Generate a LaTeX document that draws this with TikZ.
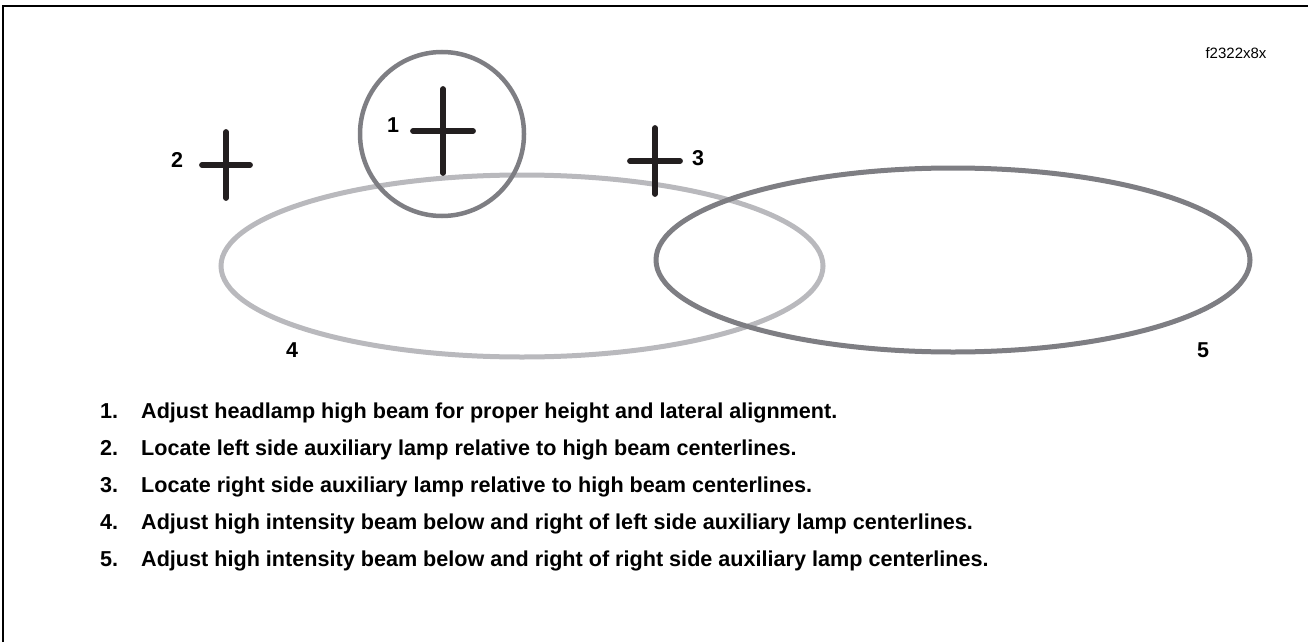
\documentclass[tikz,border=0pt]{standalone}
\usepackage{fontspec}
\setmainfont{Liberation Sans}
\definecolor{crossc}{HTML}{231F20}
\definecolor{lightg}{HTML}{B9B9BD}
\definecolor{darkg}{HTML}{7E7E83}
\begin{document}
\begin{tikzpicture}[x=1pt,y=-1pt,
  crossline/.style={line width=5.8pt,line cap=round,draw=crossc},
  lbl/.style={inner sep=0pt,font=\fontsize{21.5}{24}\selectfont\bfseries},
  item/.style={inner sep=0pt,anchor=base west,font=\fontsize{21.6}{25}\selectfont\bfseries},
  beam/.style={line width=5pt}]
\useasboundingbox (0,0) rectangle (1308,642);
% frame
\coordinate (fa) at (3,642);
\coordinate (fb) at (3,6);
\coordinate (fc) at (1308,6);
\draw[line width=1.5pt] (fa) -- (fb) -- (fc);
% ellipses and circle
\coordinate (e4) at (522,266);
\coordinate (e5) at (953,260);
\coordinate (cc) at (442,134);
\draw[lightg,beam] (e4) ellipse [x radius=301,y radius=91];
\draw[darkg,beam] (e5) ellipse [x radius=297,y radius=92];
\draw[darkg,line width=4.5pt] (cc) circle [radius=82];
% crosses
\coordinate (c1) at (443,131);
\draw[crossline] ([xshift=-30]c1) -- ([xshift=30]c1);
\draw[crossline] ([yshift=-42]c1) -- ([yshift=42]c1);
\coordinate (c2) at (226,165);
\draw[crossline] ([xshift=-24]c2) -- ([xshift=24]c2);
\draw[crossline] ([yshift=-33]c2) -- ([yshift=33]c2);
\coordinate (c3) at (655,161);
\draw[crossline] ([xshift=-25]c3) -- ([xshift=25]c3);
\draw[crossline] ([yshift=-33]c3) -- ([yshift=33]c3);
% labels
\node[lbl] (l1) at (393,125) {1};
\node[lbl] (l2) at (177,160) {2};
\node[lbl] (l3) at (698,158) {3};
\node[lbl] (l4) at (292,350) {4};
\node[lbl] (l5) at (1203,350) {5};
\node[inner sep=0pt,font=\fontsize{15}{18}\selectfont] (code) at (1236,53) {f2322x8x};
% list
\node[item] (n1) at (100,418) {1.};
\node[item] (t1) at (141,418) {Adjust headlamp high beam for proper height and lateral alignment.};
\node[item] (n2) at (100,455) {2.};
\node[item] (t2) at (141,455) {Locate left side auxiliary lamp relative to high beam centerlines.};
\node[item] (n3) at (100,492) {3.};
\node[item] (t3) at (141,492) {Locate right side auxiliary lamp relative to high beam centerlines.};
\node[item] (n4) at (100,529) {4.};
\node[item] (t4) at (141,529) {Adjust high intensity beam below and right of left side auxiliary lamp centerlines.};
\node[item] (n5) at (100,566) {5.};
\node[item] (t5) at (141,566) {Adjust high intensity beam below and right of right side auxiliary lamp centerlines.};
\end{tikzpicture}
\end{document}
